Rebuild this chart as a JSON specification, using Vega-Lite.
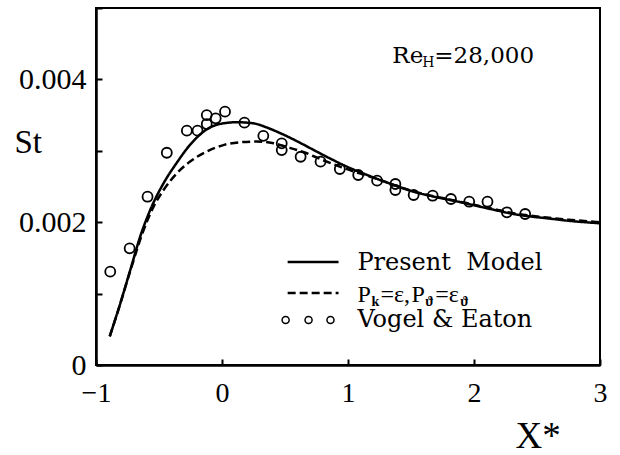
{
  "$schema": "https://vega.github.io/schema/vega-lite/v6.json",
  "width": 504,
  "height": 357,
  "autosize": {"type": "none"},
  "padding": {"left": 96, "top": 8, "right": 20, "bottom": 90},
  "background": "white",
  "config": {
    "view": {"stroke": "black", "strokeWidth": 2},
    "axis": {
      "grid": false,
      "domainColor": "black",
      "domainWidth": 2.5,
      "tickColor": "black",
      "tickWidth": 2,
      "tickSize": -6,
      "labelColor": "black",
      "labelFont": "Liberation Serif",
      "labelFontSize": 28,
      "labelFlush": false,
      "labelOverlap": false,
      "titleColor": "black",
      "titleFont": "Liberation Serif",
      "titleFontWeight": "normal"
    }
  },
  "datasets": {
    "curves": [
      {"series": "Present Model", "x": -0.891, "y": 0.00040},
      {"series": "Present Model", "x": -0.807, "y": 0.000864},
      {"series": "Present Model", "x": -0.728, "y": 0.00133},
      {"series": "Present Model", "x": -0.649, "y": 0.00180},
      {"series": "Present Model", "x": -0.570, "y": 0.00217},
      {"series": "Present Model", "x": -0.464, "y": 0.002545},
      {"series": "Present Model", "x": -0.358, "y": 0.002835},
      {"series": "Present Model", "x": -0.253, "y": 0.003085},
      {"series": "Present Model", "x": -0.121, "y": 0.003300},
      {"series": "Present Model", "x": 0.011, "y": 0.003385},
      {"series": "Present Model", "x": 0.117, "y": 0.00340},
      {"series": "Present Model", "x": 0.249, "y": 0.003385},
      {"series": "Present Model", "x": 0.35, "y": 0.00333},
      {"series": "Present Model", "x": 0.465, "y": 0.003245},
      {"series": "Present Model", "x": 0.6, "y": 0.00313},
      {"series": "Present Model", "x": 0.729, "y": 0.00301},
      {"series": "Present Model", "x": 0.86, "y": 0.00289},
      {"series": "Present Model", "x": 0.993, "y": 0.002777},
      {"series": "Present Model", "x": 1.125, "y": 0.00268},
      {"series": "Present Model", "x": 1.257, "y": 0.00259},
      {"series": "Present Model", "x": 1.39, "y": 0.002505},
      {"series": "Present Model", "x": 1.521, "y": 0.002427},
      {"series": "Present Model", "x": 1.65, "y": 0.00237},
      {"series": "Present Model", "x": 1.786, "y": 0.00232},
      {"series": "Present Model", "x": 1.92, "y": 0.00227},
      {"series": "Present Model", "x": 2.05, "y": 0.002217},
      {"series": "Present Model", "x": 2.18, "y": 0.002165},
      {"series": "Present Model", "x": 2.313, "y": 0.002115},
      {"series": "Present Model", "x": 2.45, "y": 0.00208},
      {"series": "Present Model", "x": 2.578, "y": 0.002055},
      {"series": "Present Model", "x": 2.75, "y": 0.00202},
      {"series": "Present Model", "x": 3.0, "y": 0.001985},
      {"series": "Pk=e", "x": -0.891, "y": 0.00040},
      {"series": "Pk=e", "x": -0.807, "y": 0.00086},
      {"series": "Pk=e", "x": -0.728, "y": 0.00132},
      {"series": "Pk=e", "x": -0.622, "y": 0.00189},
      {"series": "Pk=e", "x": -0.543, "y": 0.002217},
      {"series": "Pk=e", "x": -0.464, "y": 0.00245},
      {"series": "Pk=e", "x": -0.358, "y": 0.002685},
      {"series": "Pk=e", "x": -0.253, "y": 0.00285},
      {"series": "Pk=e", "x": -0.121, "y": 0.00299},
      {"series": "Pk=e", "x": 0.011, "y": 0.00308},
      {"series": "Pk=e", "x": 0.143, "y": 0.00312},
      {"series": "Pk=e", "x": 0.275, "y": 0.00313},
      {"series": "Pk=e", "x": 0.4, "y": 0.00311},
      {"series": "Pk=e", "x": 0.5, "y": 0.00306},
      {"series": "Pk=e", "x": 0.65, "y": 0.00298},
      {"series": "Pk=e", "x": 0.8, "y": 0.00287},
      {"series": "Pk=e", "x": 0.95, "y": 0.00277},
      {"series": "Pk=e", "x": 1.1, "y": 0.00268},
      {"series": "Pk=e", "x": 1.257, "y": 0.00259},
      {"series": "Pk=e", "x": 1.39, "y": 0.002505},
      {"series": "Pk=e", "x": 1.521, "y": 0.00243},
      {"series": "Pk=e", "x": 1.65, "y": 0.002375},
      {"series": "Pk=e", "x": 1.786, "y": 0.002325},
      {"series": "Pk=e", "x": 1.92, "y": 0.002275},
      {"series": "Pk=e", "x": 2.05, "y": 0.002225},
      {"series": "Pk=e", "x": 2.18, "y": 0.002175},
      {"series": "Pk=e", "x": 2.313, "y": 0.002125},
      {"series": "Pk=e", "x": 2.45, "y": 0.00209},
      {"series": "Pk=e", "x": 2.578, "y": 0.002065},
      {"series": "Pk=e", "x": 2.75, "y": 0.002035},
      {"series": "Pk=e", "x": 3.0, "y": 0.0020}
    ],
    "exp": [
      {"x": -0.887, "y": 0.001307},
      {"x": -0.733, "y": 0.001634},
      {"x": -0.591, "y": 0.002357},
      {"x": -0.438, "y": 0.002973},
      {"x": -0.279, "y": 0.003282},
      {"x": -0.194, "y": 0.003282},
      {"x": -0.121, "y": 0.003375},
      {"x": -0.121, "y": 0.00350},
      {"x": -0.050, "y": 0.003455},
      {"x": 0.024, "y": 0.003548},
      {"x": 0.178, "y": 0.003394},
      {"x": 0.328, "y": 0.00321},
      {"x": 0.474, "y": 0.003105},
      {"x": 0.474, "y": 0.00301},
      {"x": 0.624, "y": 0.002917},
      {"x": 0.782, "y": 0.002848},
      {"x": 0.935, "y": 0.002745},
      {"x": 1.081, "y": 0.002661},
      {"x": 1.231, "y": 0.002582},
      {"x": 1.376, "y": 0.002535},
      {"x": 1.376, "y": 0.002451},
      {"x": 1.521, "y": 0.002381},
      {"x": 1.672, "y": 0.002371},
      {"x": 1.817, "y": 0.002325},
      {"x": 1.962, "y": 0.002287},
      {"x": 2.107, "y": 0.002287},
      {"x": 2.261, "y": 0.002139},
      {"x": 2.406, "y": 0.002115}
    ],
    "legendLines": [
      {"series": "Present Model", "x": 0.521, "x2": 0.925, "y": 0.001443},
      {"series": "Pk=e", "x": 0.521, "x2": 0.925, "y": 0.001008}
    ],
    "legendDots": [
      {"x": 0.505, "y": 0.00063},
      {"x": 0.687, "y": 0.00063},
      {"x": 0.861, "y": 0.00063}
    ],
    "legendText": [
      {"x": 1.075, "y": 0.001331, "t": "Present\u00a0 Model"},
      {"x": 1.075, "y": 0.000532, "t": "Vogel & Eaton"}
    ],
    "pkText": [
      {"x": 1.075, "y": 0.000882, "t": "P"},
      {"x": 1.257, "y": 0.000882, "t": "=\u03b5,"},
      {"x": 1.503, "y": 0.000882, "t": "P"},
      {"x": 1.693, "y": 0.000882, "t": "=\u03b5"}
    ],
    "pkSub": [
      {"x": 1.186, "y": 0.000826, "t": "k"},
      {"x": 1.614, "y": 0.000826, "t": "\u03d1"},
      {"x": 1.891, "y": 0.000826, "t": "\u03d1"}
    ],
    "reText": [
      {"x": 1.352, "y": 0.00423, "t": "Re"},
      {"x": 1.685, "y": 0.00423, "t": "=28,000"}
    ],
    "reSub": [
      {"x": 1.59, "y": 0.004174, "t": "H"}
    ]
  },
  "layer": [
    {
      "data": {"name": "curves"},
      "mark": {"type": "line", "color": "black", "strokeWidth": 2.5, "interpolate": "monotone"},
      "encoding": {
        "x": {
          "field": "x", "type": "quantitative",
          "scale": {"domain": [-1, 3], "nice": false, "zero": false},
          "axis": {
            "values": [-1, 0, 1, 2, 3],
            "format": "d",
            "labelPadding": 20,
            "title": "X*",
            "titleFontSize": 37,
            "titleAngle": 0,
            "titleX": 419,
            "titleY": 82,
            "titleAlign": "left",
            "titleBaseline": "alphabetic"
          }
        },
        "y": {
          "field": "y", "type": "quantitative",
          "scale": {"domain": [0, 0.005], "nice": false, "zero": false},
          "axis": {
            "values": [0, 0.001, 0.002, 0.003, 0.004, 0.005],
            "format": ".3~f",
            "labelExpr": "datum.value == 0.001 || datum.value == 0.003 || datum.value == 0.005 ? '' : datum.label",
            "labelPadding": 16,
            "labelFontSize": 30,
            "title": "St",
            "titleFontSize": 33,
            "titleAngle": 0,
            "titleX": -82,
            "titleY": 134,
            "titleAlign": "left",
            "titleBaseline": "middle"
          }
        },
        "strokeDash": {
          "field": "series", "type": "nominal",
          "scale": {"domain": ["Present Model", "Pk=e"], "range": [[1, 0], [8, 4]]},
          "legend": null
        }
      }
    },
    {
      "data": {"name": "exp"},
      "mark": {"type": "point", "shape": "circle", "filled": false, "color": "black", "size": 100, "strokeWidth": 1.8, "opacity": 1},
      "encoding": {
        "x": {"field": "x", "type": "quantitative"},
        "y": {"field": "y", "type": "quantitative"}
      }
    },
    {
      "data": {"name": "legendLines"},
      "mark": {"type": "rule", "color": "black", "strokeWidth": 2.5},
      "encoding": {
        "x": {"field": "x", "type": "quantitative"},
        "x2": {"field": "x2"},
        "y": {"field": "y", "type": "quantitative"},
        "strokeDash": {"field": "series", "type": "nominal", "legend": null}
      }
    },
    {
      "data": {"name": "legendDots"},
      "mark": {"type": "point", "shape": "circle", "filled": false, "color": "black", "size": 50, "strokeWidth": 1.5, "opacity": 1},
      "encoding": {
        "x": {"field": "x", "type": "quantitative"},
        "y": {"field": "y", "type": "quantitative"}
      }
    },
    {
      "data": {"name": "legendText"},
      "mark": {"type": "text", "align": "left", "baseline": "alphabetic", "font": "DejaVu Serif", "fontSize": 24, "color": "black"},
      "encoding": {
        "x": {"field": "x", "type": "quantitative"},
        "y": {"field": "y", "type": "quantitative"},
        "text": {"field": "t"}
      }
    },
    {
      "data": {"name": "pkText"},
      "mark": {"type": "text", "align": "left", "baseline": "alphabetic", "font": "Liberation Serif", "fontSize": 24, "color": "black"},
      "encoding": {
        "x": {"field": "x", "type": "quantitative"},
        "y": {"field": "y", "type": "quantitative"},
        "text": {"field": "t"}
      }
    },
    {
      "data": {"name": "pkSub"},
      "mark": {"type": "text", "align": "left", "baseline": "alphabetic", "font": "Liberation Serif", "fontSize": 14, "fontWeight": "bold", "color": "black"},
      "encoding": {
        "x": {"field": "x", "type": "quantitative"},
        "y": {"field": "y", "type": "quantitative"},
        "text": {"field": "t"}
      }
    },
    {
      "data": {"name": "reText"},
      "mark": {"type": "text", "align": "left", "baseline": "alphabetic", "font": "DejaVu Serif", "fontSize": 23, "color": "black"},
      "encoding": {
        "x": {"field": "x", "type": "quantitative"},
        "y": {"field": "y", "type": "quantitative"},
        "text": {"field": "t"}
      }
    },
    {
      "data": {"name": "reSub"},
      "mark": {"type": "text", "align": "left", "baseline": "alphabetic", "font": "DejaVu Serif", "fontSize": 14, "color": "black"},
      "encoding": {
        "x": {"field": "x", "type": "quantitative"},
        "y": {"field": "y", "type": "quantitative"},
        "text": {"field": "t"}
      }
    }
  ]
}
